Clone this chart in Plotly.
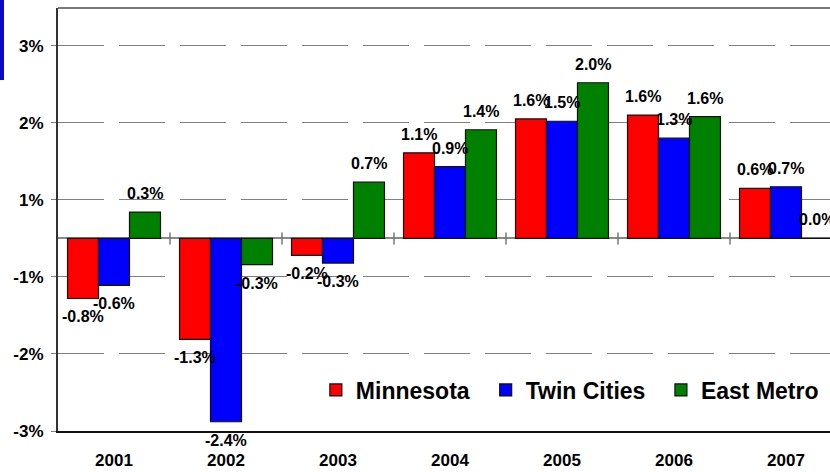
import plotly.graph_objects as go

# annual change, percent
years = ["2001", "2002", "2003", "2004", "2005", "2006", "2007"]
minnesota = [-0.78, -1.31, -0.22, 1.11, 1.55, 1.60, 0.65]
twin_cities = [-0.61, -2.38, -0.32, 0.93, 1.52, 1.30, 0.67]
east_metro = [0.34, -0.34, 0.73, 1.41, 2.02, 1.58, 0.0]

# data labels as printed on the chart
minnesota_labels = ["-0.8%", "-1.3%", "-0.2%", "1.1%", "1.6%", "1.6%", "0.6%"]
twin_cities_labels = ["-0.6%", "-2.4%", "-0.3%", "0.9%", "1.5%", "1.3%", "0.7%"]
east_metro_labels = ["0.3%", "-0.3%", "0.7%", "1.4%", "2.0%", "1.6%", "0.0%"]

# y tick labels (gridlines sit on the half percents)
y_tickvals = [-2.5, -1.5, -0.5, 0.5, 1.5, 2.5]
y_ticktext = ["-3%", "-2%", "-1%", "1%", "2%", "3%"]
y_neg_tickvals = [-2.5, -1.5, -0.5]

FONT = "Arial, Liberation Sans, sans-serif"
BARGAP = 0.17

series = [
    ("Minnesota", minnesota, minnesota_labels, "#FF0000", "legend"),
    ("Twin Cities", twin_cities, twin_cities_labels, "#0000FF", "legend2"),
    ("East Metro", east_metro, east_metro_labels, "#008000", "legend3"),
]

fig = go.Figure()
for name, vals, _, col, leg in series:
    fig.add_trace(go.Bar(
        x=years, y=vals, name=name, legend=leg, showlegend=True,
        marker=dict(color=col, line=dict(color="#111111", width=1.2)),
        hoverinfo="skip",
    ))

# data labels above / below each bar
bar_w = (1 - BARGAP) / len(series)
for k, (name, vals, labels, col, _) in enumerate(series):
    for i, (v, lab) in enumerate(zip(vals, labels)):
        fig.add_annotation(
            x=i + (k - 1) * bar_w, y=v, xref="x", yref="y",
            text=lab, showarrow=False,
            yanchor="bottom" if v >= 0 else "top",
            yshift=8 if v >= 0 else -8,
            font=dict(family=FONT, size=16, color="#000000", weight="bold"),
        )

# small tick crosses on the zero line between years
for i in range(len(years) - 1):
    fig.add_shape(type="line", xref="x", yref="y",
                  x0=i + 0.5, x1=i + 0.5,
                  ysizemode="pixel", yanchor=0, y0=-6, y1=6,
                  line=dict(color="#777777", width=1.5))

# grey frame line along the top
fig.add_shape(type="line", xref="paper", yref="paper", x0=0, x1=1, y0=1, y1=1,
              line=dict(color="#777777", width=2))

# blue strip at the top left corner
fig.add_shape(type="rect", xref="paper", yref="paper",
              xsizemode="pixel", xanchor=0, x0=-58, x1=-54,
              ysizemode="pixel", yanchor=1, y0=8, y1=-72,
              fillcolor="#0A0AC8", line=dict(width=0), layer="above")

legend_font = dict(family=FONT, size=23, color="#000000", weight="bold")
legend_common = dict(orientation="h", xanchor="left", y=0.097, yanchor="middle",
                     font=legend_font, bgcolor="rgba(0,0,0,0)", visible=True)

fig.update_layout(
    width=830, height=472,
    margin=dict(l=58, r=0, t=8, b=41),
    plot_bgcolor="white", paper_bgcolor="white",
    showlegend=True,
    barmode="group", bargap=BARGAP, bargroupgap=0,
    font=dict(family=FONT, color="#000000"),
    legend=dict(x=0.334, **legend_common),
    legend2=dict(x=0.554, **legend_common),
    legend3=dict(x=0.781, **legend_common),
    xaxis=dict(
        type="category", range=[-0.5, 6.393], automargin=False,
        showline=True, linecolor="#111111", linewidth=2,
        ticks="", showgrid=False, zeroline=False,
        tickfont=dict(family=FONT, size=17, color="#000000", weight="bold"),
        ticklabelstandoff=13,
    ),
    yaxis=dict(
        range=[-2.5, 2.99], automargin=False,
        tickvals=y_tickvals, ticktext=y_ticktext,
        showgrid=True, gridcolor="#808080", gridwidth=1, griddash="46px,15px",
        zeroline=True, zerolinecolor="#888888", zerolinewidth=2,
        showline=True, linecolor="#333333", linewidth=2,
        ticks="outside", ticklen=5, tickcolor="#808080", tickwidth=1,
        ticklabelstandoff=4,
        tickfont=dict(family=FONT, size=17, color="#000000", weight="bold"),
    ),
    # darker gridlines below the zero line
    yaxis2=dict(
        overlaying="y", side="left", range=[-2.5, 2.99], automargin=False,
        tickvals=y_neg_tickvals, showticklabels=False,
        showgrid=True, gridcolor="#111111", gridwidth=1, griddash="46px,15px",
        zeroline=False, showline=False,
        ticks="outside", ticklen=5, tickcolor="#111111", tickwidth=1,
    ),
)

fig.write_html("out.html", config={"displayModeBar": False},
               post_script="document.body.style.margin='0';")
